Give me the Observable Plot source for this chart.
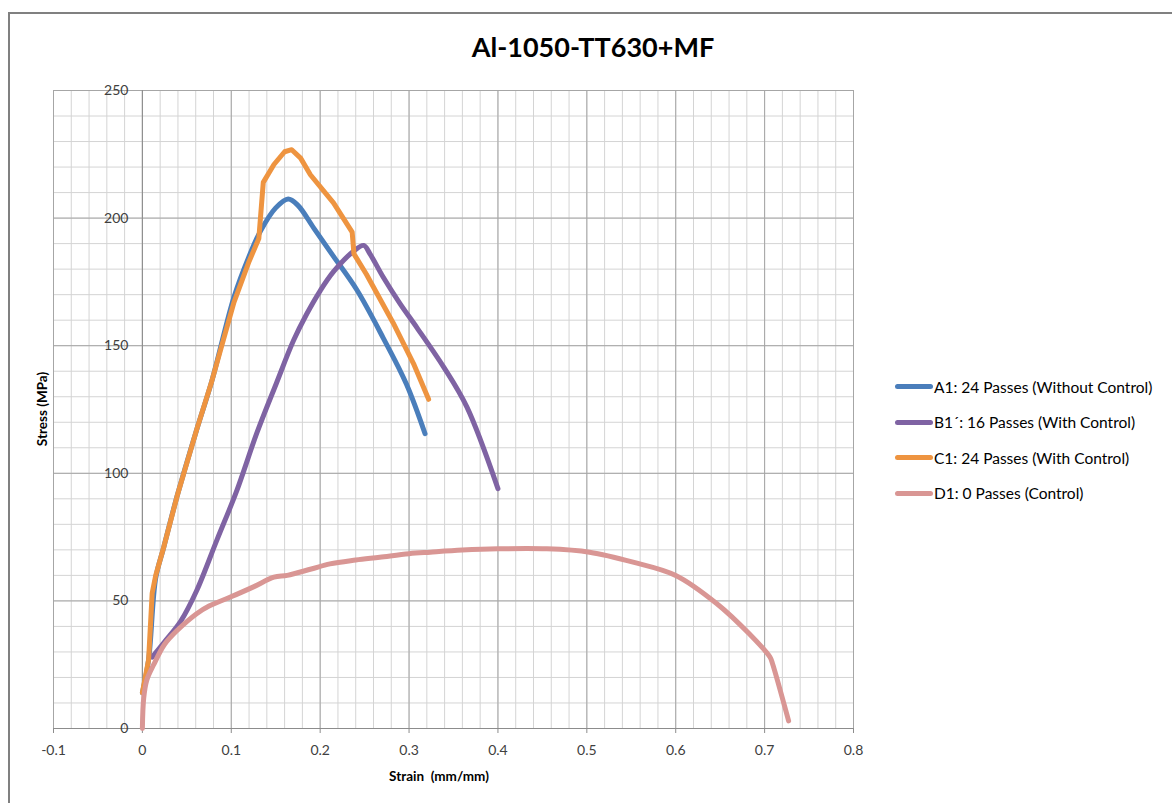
<!DOCTYPE html>
<html>
<head>
<meta charset="utf-8">
<script src="https://cdn.jsdelivr.net/npm/d3@7"></script>
<script src="https://cdn.jsdelivr.net/npm/@observablehq/plot@0.6"></script>
<style>
  html, body { margin: 0; padding: 0; background: #fff; }
  #wrap { position: relative; width: 1172px; height: 803px; overflow: hidden; font-family: Lato, "Open Sans", sans-serif; }
  #frame { position: absolute; left: 8px; top: 12px; right: -2px; bottom: -10px; border-top: 2px solid #808080; border-left: 2px solid #808080; }
  #chart { position: absolute; left: 0; top: 0; }
  #title { position: absolute; left: 393px; width: 400px; top: 30px; text-align: center; font-weight: bold; font-size: 27px; color: #000; }
  .axt { position: absolute; font-weight: bold; font-size: 13.5px; color: #000; white-space: pre; }
  #ylab { left: 42px; top: 409px; transform: translate(-50%, -50%) rotate(-90deg); }
  #xlab { left: 439px; top: 776px; transform: translate(-50%, -50%); }
  #legend { position: absolute; left: 895px; top: 369px; font-size: 15.5px; color: #000; }
  .row { display: flex; align-items: center; height: 35.5px; }
  .sw { width: 38px; height: 5px; border-radius: 3px; margin-right: 1px; }
</style>
</head>
<body>
<div id="wrap">
  <div id="frame"></div>
  <div id="chart"></div>
  <div id="title">Al-1050-TT630+MF</div>
  <div class="axt" id="ylab">Stress (MPa)</div>
  <div class="axt" id="xlab">Strain  (mm/mm)</div>
  <div id="legend"></div>
</div>
<script>
// ---- data ----
const seriesNames = [
  "A1: 24 Passes (Without Control)",
  "B1´: 16 Passes (With Control)",
  "C1: 24 Passes (With Control)",
  "D1: 0 Passes (Control)"
];
const seriesColors = ["#4a7ebb", "#7f63a3", "#ee9440", "#d99694"];

const strainA = [0, 0.007, 0.015, 0.024, 0.039, 0.061, 0.078, 0.103, 0.120, 0.133, 0.150, 0.164, 0.175, 0.193, 0.215, 0.241, 0.271, 0.297, 0.318];
const stressA = [14, 27, 59, 71, 91, 117, 136, 169, 185, 195, 204, 207.5, 205, 196, 185, 172, 153, 135, 115.5];

const strainB = [0.011, 0.025, 0.043, 0.061, 0.084, 0.106, 0.129, 0.151, 0.170, 0.185, 0.200, 0.215, 0.2375, 0.249, 0.256, 0.271, 0.290, 0.309, 0.339, 0.365, 0.400];
const stressB = [28, 34, 42, 54, 74, 93, 116, 135.5, 152, 162.5, 171.5, 179, 187, 189.3, 186, 176.8, 166.4, 157, 141.6, 126, 94];

const strainC = [0, 0.007, 0.011, 0.015, 0.024, 0.039, 0.061, 0.078, 0.103, 0.120, 0.131, 0.136, 0.148, 0.160, 0.168, 0.178, 0.189, 0.215, 0.236, 0.238, 0.252, 0.282, 0.305, 0.322];
const stressC = [14, 27, 53, 60, 71, 91, 117, 136, 167, 183, 192, 214, 221, 226, 226.8, 223.5, 217, 206, 194.5, 186, 178, 159, 143, 129];

const strainD = [0, 0.0015, 0.005, 0.0127, 0.025, 0.039, 0.061, 0.075, 0.099, 0.125, 0.148, 0.163, 0.19, 0.211, 0.24, 0.267, 0.3, 0.324, 0.36, 0.4, 0.455, 0.503, 0.552, 0.6, 0.646, 0.683, 0.706, 0.709, 0.727];
const stressD = [0, 12, 19, 25, 33, 38.4, 45, 48, 51.5, 55.5, 59.3, 60, 62.5, 64.5, 66, 67.1, 68.5, 69.1, 69.9, 70.4, 70.4, 69.1, 65.2, 60, 49, 37, 28, 25.3, 3];

const xTicks = [-0.1, 0, 0.1, 0.2, 0.3, 0.4, 0.5, 0.6, 0.7, 0.8];
const yTicks = [0, 50, 100, 150, 200, 250];

// ---- build tables ----
const zip = (xs, ys) => xs.map((x, i) => ({strain: x, stress: ys[i]}));
const A = zip(strainA, stressA), B = zip(strainB, stressB), C = zip(strainC, stressC), D = zip(strainD, stressD);

const xMinor = d3.range(-0.1, 0.8001, 0.02).map(v => +v.toFixed(2));
const yMinor = d3.range(0, 250.01, 10);

const lineOpts = {x: "strain", y: "stress", strokeWidth: 5, strokeLinecap: "round", strokeLinejoin: "round"};

const chart = Plot.plot({
  width: 870,
  height: 790,
  marginLeft: 53,
  marginRight: 17,
  marginTop: 90,
  marginBottom: 62,
  style: {fontFamily: "Lato, 'Open Sans', sans-serif", fontSize: "14px", color: "#404040", background: "transparent"},
  x: {domain: [-0.1, 0.8], label: null},
  y: {domain: [0, 250], label: null, axis: null},
  marks: [
    Plot.ruleX(xMinor, {stroke: "#d4d4d4", strokeWidth: 1}),
    Plot.ruleY(yMinor, {stroke: "#d4d4d4", strokeWidth: 1}),
    Plot.ruleX(xTicks, {stroke: "#a6a6a6", strokeWidth: 1}),
    Plot.ruleY(yTicks, {stroke: "#a6a6a6", strokeWidth: 1}),
    Plot.ruleX([0], {stroke: "#8c8c8c", strokeWidth: 1}),
    Plot.ruleY([0], {stroke: "#8c8c8c", strokeWidth: 1}),
    Plot.axisX(xTicks, {anchor: "bottom", tickSize: 5, tickPadding: 12, stroke: "#8c8c8c", tickFormat: d => String(d), fill: "#404040", fontSize: 14}),
    Plot.text(yTicks, {x: 0, y: d => d, text: d => String(d), dx: -14, textAnchor: "end", fill: "#404040", fontSize: 14}),
    Plot.line(A, {...lineOpts, stroke: seriesColors[0], curve: "catmull-rom"}),
    Plot.line(B, {...lineOpts, stroke: seriesColors[1], curve: "catmull-rom"}),
    Plot.line(C, {...lineOpts, stroke: seriesColors[2], curve: "linear"}),
    Plot.line(D, {...lineOpts, stroke: seriesColors[3], curve: "catmull-rom"})
  ]
});
document.getElementById("chart").appendChild(chart);

// ---- legend ----
const leg = document.getElementById("legend");
seriesNames.forEach((name, i) => {
  const row = document.createElement("div");
  row.className = "row";
  const sw = document.createElement("div");
  sw.className = "sw";
  sw.style.background = seriesColors[i];
  const t = document.createElement("span");
  t.textContent = name;
  row.appendChild(sw);
  row.appendChild(t);
  leg.appendChild(row);
});
</script>
</body>
</html>
